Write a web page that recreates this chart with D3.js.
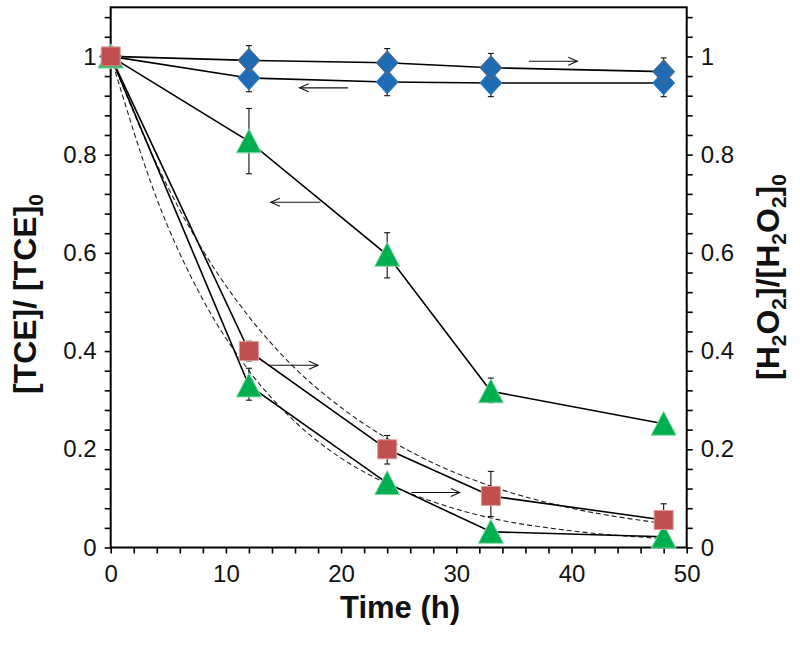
<!DOCTYPE html>
<html><head><meta charset="utf-8">
<script src="https://cdn.jsdelivr.net/npm/d3@7"></script>
<style>body{margin:0;background:#fff} svg{display:block}</style>
</head><body><svg id="c" width="800" height="646"></svg>
<script>
// ---- data ----
const times = [0, 12, 24, 33, 48];
const tceBlue = [1, 0.956, 0.948, 0.946, 0.946];
const tceBlueLo = [1, 0.928, 0.92, 0.918, 0.918];
const tceBlueHi = [1, 0.984, 0.976, 0.974, 0.974];
const h2o2Blue = [1, 0.992, 0.987, 0.977, 0.969];
const h2o2BlueLo = [1, 0.962, 0.957, 0.947, 0.941];
const h2o2BlueHi = [1, 1.022, 1.016, 1.006, 0.997];
const tceGreen = [1, 0.827, 0.596, 0.318, 0.252];
const tceGreenLo = [1, 0.761, 0.549, 0.295, 0.245];
const tceGreenHi = [1, 0.894, 0.641, 0.345, 0.26];
const h2o2Green = [1, 0.33, 0.131, 0.032, 0.022];
const h2o2GreenLo = [1, 0.30, 0.12, 0.025, 0.015];
const h2o2GreenHi = [1, 0.365, 0.14, 0.04, 0.027];
const h2o2Red = [1, 0.40, 0.20, 0.105, 0.056];
const h2o2RedLo = [1, 0.38, 0.17, 0.063, 0.035];
const h2o2RedHi = [1, 0.42, 0.228, 0.155, 0.089];
const fitTimes = [0, 4, 8, 12, 16, 20, 24, 28, 33, 40, 48];
const fitSlow = [1, 0.78, 0.605, 0.47, 0.365, 0.285, 0.222, 0.172, 0.125, 0.08, 0.049];
const fitFast = [1, 0.71, 0.505, 0.36, 0.256, 0.182, 0.13, 0.093, 0.06, 0.034, 0.018];
const xTickLabels = ["0", "10", "20", "30", "40", "50"];
const yTickLabels = ["0", "0.2", "0.4", "0.6", "0.8", "1"];
// annotation arrows: from t1 to t2 at level v; dir 1 = points right (H2O2 axis), -1 = left (TCE axis)
const arrowT1 = [36.3, 16.4, 13.9, 13.65, 26.1];
const arrowT2 = [40.5, 20.6, 18.2, 18.0, 30.3];
const arrowV  = [0.990, 0.936, 0.703, 0.371, 0.112];
const arrowDir = [1, -1, -1, 1, 1];

// ---- layout ----
const svg = d3.select("#c");
const x = d3.scaleLinear().domain([0, 50]).range([110.7, 686.7]);
const yL = d3.scaleLinear().domain([0, 1.1]).range([547.5, 7.3]);
const yR = d3.scaleLinear().domain([0, 1.1]).range([547.5, 7.3]);
const FONT = "'Liberation Sans', Arial, Helvetica, sans-serif";

// ---- axes ----
const yTickVals = d3.range(0, 28).map(i => +(i * 0.04).toFixed(2));
const fmtY = v => { const i = Math.round(v / 0.2); return Math.abs(v - i * 0.2) < 1e-6 ? yTickLabels[i] : ""; };
const xTickVals = d3.range(0, 26).map(i => i * 2);
const fmtX = v => v % 10 === 0 ? xTickLabels[v / 10] : "";

function styleAxis(g) {
  g.select(".domain").remove();
  g.selectAll(".tick line").attr("stroke", "#000").attr("stroke-width", 1.6);
  g.selectAll(".tick text").attr("font-family", FONT).attr("font-size", 24).attr("fill", "#111");
}
svg.append("g").attr("transform", `translate(${x(0)},0)`)
  .call(d3.axisLeft(yL).tickValues(yTickVals).tickFormat(fmtY).tickSize(6).tickPadding(8))
  .call(styleAxis);
svg.append("g").attr("transform", `translate(${x(50)},0)`)
  .call(d3.axisRight(yR).tickValues(yTickVals).tickFormat(fmtY).tickSize(6).tickPadding(8))
  .call(styleAxis);
svg.append("g").attr("transform", `translate(0,${yL(0)})`)
  .call(d3.axisBottom(x).tickValues(xTickVals).tickFormat(fmtX).tickSize(6).tickPadding(11))
  .call(styleAxis);

// frame
svg.append("rect").attr("x", x(0)).attr("y", yL(1.1))
  .attr("width", x(50) - x(0)).attr("height", yL(0) - yL(1.1))
  .attr("fill", "none").attr("stroke", "#000").attr("stroke-width", 2);

// ---- fitted dashed curves ----
const fitLine = d3.line().x(d => x(d[0])).y(d => yR(d[1])).curve(d3.curveMonotoneX);
[fitSlow, fitFast].forEach(arr => {
  svg.append("path").attr("d", fitLine(fitTimes.map((t, i) => [t, arr[i]])))
    .attr("fill", "none").attr("stroke", "#222").attr("stroke-width", 1.1)
    .attr("stroke-dasharray", "5,3");
});

// ---- series ----
const series = [
  {v: tceBlue, lo: tceBlueLo, hi: tceBlueHi, y: yL, shape: "diamond", fill: "#1f6cb5", stroke: "#2a7fd0"},
  {v: h2o2Blue, lo: h2o2BlueLo, hi: h2o2BlueHi, y: yR, shape: "diamond", fill: "#1f6cb5", stroke: "#666"},
  {v: tceGreen, lo: tceGreenLo, hi: tceGreenHi, y: yL, shape: "triangle", fill: "#00b050", stroke: "#8ad8aa"},
  {v: h2o2Green, lo: h2o2GreenLo, hi: h2o2GreenHi, y: yR, shape: "triangle", fill: "#00b050", stroke: "#8ad8aa"},
  {v: h2o2Red, lo: h2o2RedLo, hi: h2o2RedHi, y: yR, shape: "square", fill: "#c0504d", stroke: "#dd9a97"}
];
const solid = d3.line().x(d => x(d[0])).y(d => d[2](d[1]));
series.forEach(s => {
  svg.append("path").attr("d", solid(times.map((t, i) => [t, s.v[i], s.y])))
    .attr("fill", "none").attr("stroke", "#000").attr("stroke-width", 1.6);
});
// error bars
series.forEach(s => {
  times.forEach((t, i) => {
    if (s.hi[i] - s.lo[i] < 0.005) return;
    const g = svg.append("g").attr("stroke", "#111").attr("stroke-width", 1.1);
    const cx = x(t);
    g.append("line").attr("x1", cx).attr("x2", cx).attr("y1", s.y(s.lo[i])).attr("y2", s.y(s.hi[i]));
    g.append("line").attr("x1", cx - 3).attr("x2", cx + 3).attr("y1", s.y(s.lo[i])).attr("y2", s.y(s.lo[i]));
    g.append("line").attr("x1", cx - 3).attr("x2", cx + 3).attr("y1", s.y(s.hi[i])).attr("y2", s.y(s.hi[i]));
  });
});
// arrows
arrowT1.forEach((t1, i) => {
  const g = svg.append("g").attr("stroke", "#111").attr("stroke-width", 1.1).attr("fill", "none");
  const xa = x(t1), xb = x(arrowT2[i]), yy = yL(arrowV[i]);
  g.append("line").attr("x1", xa).attr("x2", xb).attr("y1", yy).attr("y2", yy);
  const hx = arrowDir[i] > 0 ? xb : xa, s = arrowDir[i] > 0 ? -1 : 1;
  g.append("path").attr("d", `M${hx + s * 9},${yy - 4}L${hx},${yy}L${hx + s * 9},${yy + 4}`);
});
// markers
function shapePath(shape, cx, cy) {
  if (shape === "diamond") return `M${cx},${cy - 12}L${cx + 11},${cy}L${cx},${cy + 12}L${cx - 11},${cy}Z`;
  if (shape === "triangle") return `M${cx},${cy - 12.5}L${cx + 12.5},${cy + 11.5}L${cx - 12.5},${cy + 11.5}Z`;
  return `M${cx - 9.5},${cy - 9.5}h19v19h-19Z`;
}
series.forEach(s => {
  times.forEach((t, i) => {
    svg.append("path").attr("d", shapePath(s.shape, x(t), s.y(s.v[i])))
      .attr("fill", s.fill).attr("stroke", s.stroke).attr("stroke-width", 1);
  });
});

// ---- titles ----
svg.append("text").attr("x", 400).attr("y", 618).attr("text-anchor", "middle")
  .attr("font-family", FONT).attr("font-weight", "bold").attr("font-size", 31).attr("fill", "#111")
  .text("Time (h)");

const lt = svg.append("text").attr("transform", "translate(36,294) rotate(-90)")
  .attr("text-anchor", "middle").attr("font-family", FONT).attr("font-weight", "bold")
  .attr("font-size", 32).attr("fill", "#111");
lt.append("tspan").text("[TCE]/ [TCE]");
lt.append("tspan").attr("font-size", 21).attr("dy", 7).text("0");

const rt = svg.append("text").attr("transform", "translate(779,277) rotate(-90)")
  .attr("text-anchor", "middle").attr("font-family", FONT).attr("font-weight", "bold")
  .attr("font-size", 32).attr("fill", "#111");
rt.append("tspan").text("[H");
rt.append("tspan").attr("font-size", 21).attr("dy", 7).text("2");
rt.append("tspan").attr("dy", -7).text("O");
rt.append("tspan").attr("font-size", 21).attr("dy", 7).text("2");
rt.append("tspan").attr("dy", -7).text("]/[H");
rt.append("tspan").attr("font-size", 21).attr("dy", 7).text("2");
rt.append("tspan").attr("dy", -7).text("O");
rt.append("tspan").attr("font-size", 21).attr("dy", 7).text("2");
rt.append("tspan").attr("dy", -7).text("]");
rt.append("tspan").attr("font-size", 21).attr("dy", 7).text("0");
</script></body></html>
